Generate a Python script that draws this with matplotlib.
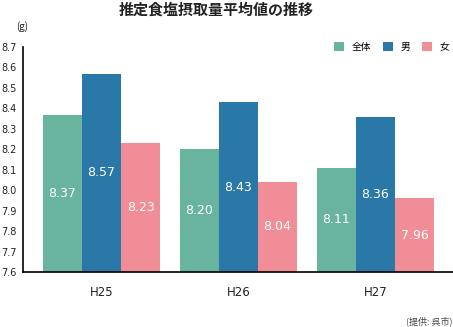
import numpy as np
import matplotlib.pyplot as plt

plt.rcParams['font.family'] = ['Noto Sans CJK JP', 'DejaVu Sans']

years = ['H25', 'H26', 'H27']
series = ['全体', '男', '女']
total = [8.37, 8.20, 8.11]
male = [8.57, 8.43, 8.36]
female = [8.23, 8.04, 7.96]
colors = ['#69b49f', '#2a78a7', '#f08d97']
yticks = [7.6, 7.7, 7.8, 7.9, 8.0, 8.1, 8.2, 8.3, 8.4, 8.5, 8.6, 8.7]

fig = plt.figure(figsize=(4.53, 3.27), dpi=100)
ax = fig.add_axes([23 / 453, 55 / 327, 430 / 453, 225 / 327])

x = np.arange(len(years))
w = 0.285
base = 7.6
for i, (vals, c) in enumerate(zip([total, male, female], colors)):
    pos = x + (i - 1) * w
    ax.bar(pos, np.array(vals) - base, w, bottom=base, color=c, label=series[i])
    for p, v in zip(pos, vals):
        ax.text(p, (v + base) / 2, f'{v:.2f}', ha='center', va='center',
                color='white', fontsize=9, family='DejaVu Sans')

ax.set_ylim(7.6, 8.7)
ax.set_xlim(-0.573, 2.566)
ax.set_yticks(yticks)
ax.set_yticklabels([f'{t:.1f}' for t in yticks], fontsize=7, color='#222222',
                   family='DejaVu Sans')
ax.set_xticks(x)
ax.set_xticklabels(years, fontsize=8.5, color='#222222', family='DejaVu Sans')
ax.tick_params(axis='y', length=0, pad=4.5)
ax.tick_params(axis='x', length=0, pad=10)
for s in ['top', 'right']:
    ax.spines[s].set_visible(False)
ax.spines['left'].set_linewidth(1.2)
ax.spines['bottom'].set_linewidth(1.2)

fig.legend(*ax.get_legend_handles_labels(), loc='center right',
           bbox_to_anchor=(458 / 453, 1 - 47 / 327), ncol=3, frameon=False,
           fontsize=7, handlelength=1.0, handleheight=1.0, columnspacing=1.2,
           handletextpad=0.8)

fig.text(216 / 453, 1 - 10 / 327, '推定食塩摂取量平均値の推移', ha='center', va='center',
         fontsize=10.8, fontweight='bold', color='#222222')
fig.text(22 / 453, 1 - 27 / 327, '(g)', ha='center', va='center', fontsize=7,
         color='#222222')
fig.text(452 / 453, 1 - 321 / 327, '(提供: 呉市)', ha='right', va='center',
         fontsize=6.5, color='#444444')

fig.savefig('out.png', dpi=100)
